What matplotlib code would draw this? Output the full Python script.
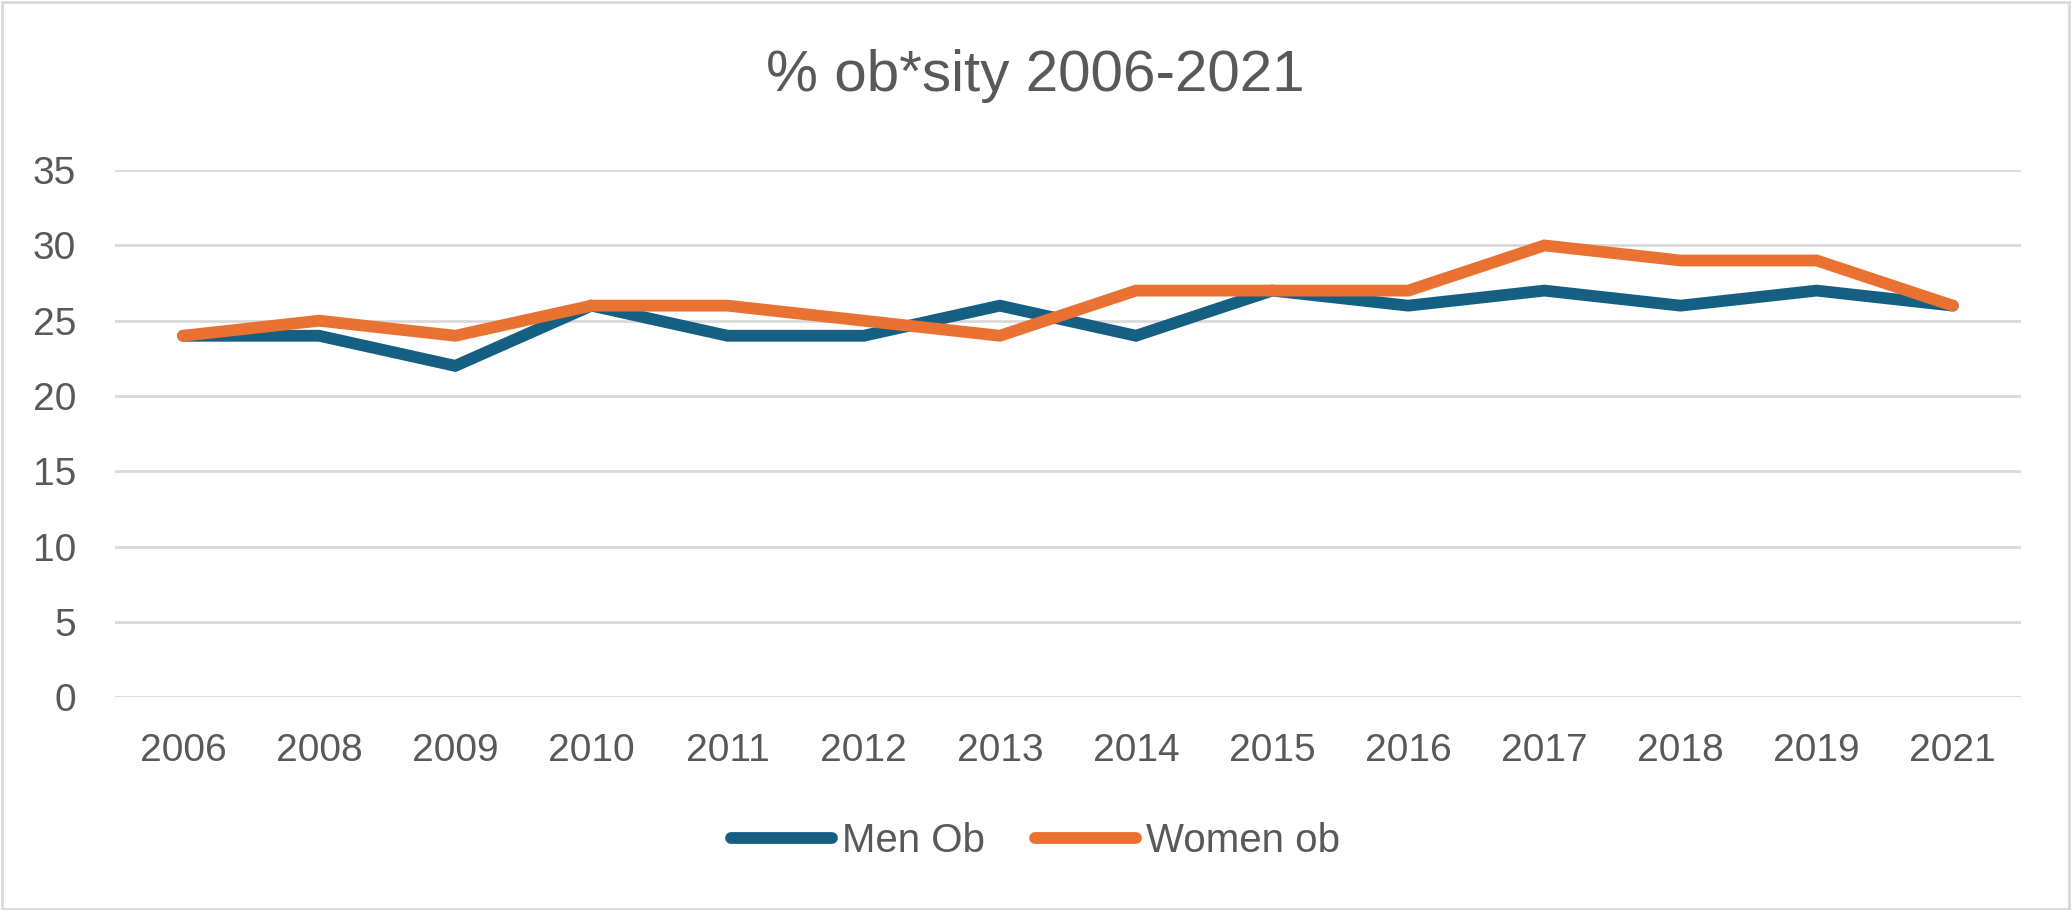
import matplotlib
matplotlib.use("Agg")
import matplotlib.pyplot as plt
from matplotlib.patches import Rectangle

# data
years = ["2006", "2008", "2009", "2010", "2011", "2012", "2013",
         "2014", "2015", "2016", "2017", "2018", "2019", "2021"]
men_ob = [24, 24, 22, 26, 24, 24, 26, 24, 27, 26, 27, 26, 27, 26]
women_ob = [24, 25, 24, 26, 26, 25, 24, 27, 27, 27, 30, 29, 29, 26]
yticks = [0, 5, 10, 15, 20, 25, 30, 35]

txt = "#595959"
grid = "#d9d9d9"
plt.rcParams['font.family'] = ['Liberation Sans', 'DejaVu Sans']

fig = plt.figure(figsize=(20.71, 9.10), dpi=100)
ax = fig.add_axes([0.0555, 0.234, 0.9203, 0.579])

x = list(range(len(years)))
ax.plot(x, men_ob, color="#156082", lw=8.5, solid_capstyle="round",
        solid_joinstyle="miter", label="Men Ob", clip_on=False, zorder=3)
ax.plot(x, women_ob, color="#E97132", lw=8.5, solid_capstyle="round",
        solid_joinstyle="miter", label="Women ob", clip_on=False, zorder=4)

ax.set_xlim(-0.5, len(years) - 0.5)
ax.set_ylim(0, 35)
ax.set_yticks(yticks)
ax.set_xticks(x)
ax.set_xticklabels(years)
ax.tick_params(axis="both", length=0, labelsize=28, labelcolor=txt)
ax.tick_params(axis="x", pad=26)
ax.tick_params(axis="y", pad=28)
ax.grid(axis="y", color=grid, lw=2)
ax.set_axisbelow(True)
for s in ax.spines.values():
    s.set_visible(False)

fig.text(0.5, 0.916, "% ob*sity 2006-2021", ha="center", va="center",
         fontsize=42, color=txt)

leg = fig.legend(loc="center", bbox_to_anchor=(0.5, 0.076), ncol=2,
                 frameon=False, fontsize=29, handlelength=2.5,
                 handletextpad=0.25, columnspacing=1.25)
for t in leg.get_texts():
    t.set_color(txt)

fig.patches.append(Rectangle((0.001, 0.001), 0.998, 0.997, transform=fig.transFigure,
                             fill=False, edgecolor=grid, lw=2))

fig.savefig("out.png", dpi=100)
